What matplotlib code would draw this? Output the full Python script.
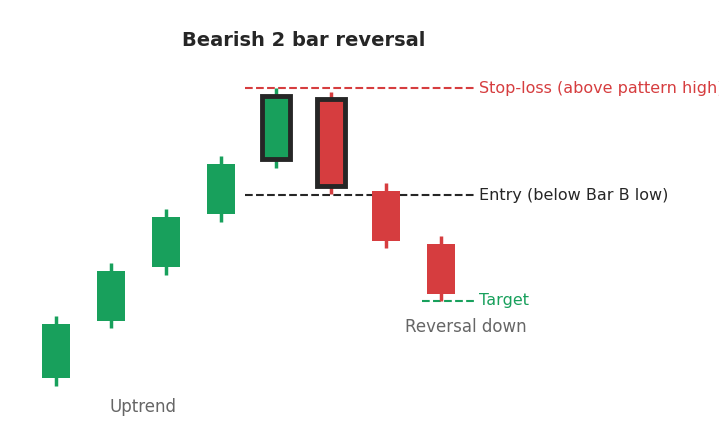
import matplotlib
matplotlib.use('Agg')
import matplotlib.pyplot as plt
from matplotlib.patches import Rectangle

opens = [6.9, 12.6, 18.0, 23.3, 28.8, 34.8, 25.6, 20.3]
closes = [12.3, 17.6, 23.0, 28.3, 35.1, 26.1, 20.6, 15.3]
lows = [6.1, 11.9, 17.2, 22.5, 27.9, 25.3, 19.9, 14.6]
highs = [13.1, 18.4, 23.8, 29.1, 35.9, 35.5, 26.4, 21.1]
outlined = [False, False, False, False, True, True, False, False]
stop_loss = 35.9
entry = 25.2
target = 14.6

green = '#18a05c'
red = '#d63d3f'

fig = plt.figure(figsize=(7.19, 4.47), dpi=100)
ax = fig.add_axes([0, 0, 1, 1])
ax.set_xlim(-56 / 55, 663 / 55)
ax.set_ylim(0, 44.7)
ax.axis('off')

width = 0.5
for i in range(len(opens)):
    o, c = opens[i], closes[i]
    color = green if c >= o else red
    ax.vlines(i, lows[i], highs[i], color=color, linewidth=2.5, zorder=2)
    if outlined[i]:
        ax.add_patch(Rectangle((i - width / 2, min(o, c)), width, abs(c - o),
                               facecolor=color, edgecolor='#262626', linewidth=3.5, zorder=3))
    else:
        ax.add_patch(Rectangle((i - width / 2, min(o, c)), width, abs(c - o),
                               facecolor=color, edgecolor='none', zorder=3))

xr = 7.63
ax.hlines(stop_loss, 3.44, xr, color=red, linestyle='--', linewidth=1.5, zorder=1)
ax.hlines(entry, 3.44, xr, color='#262626', linestyle='--', linewidth=1.5, zorder=1)
ax.hlines(target, 6.65, xr, color=green, linestyle='--', linewidth=1.5, zorder=1)

ax.text(xr + 0.06, stop_loss, 'Stop-loss (above pattern high)', color=red,
        fontsize=11.5, va='center', ha='left')
ax.text(xr + 0.06, entry, 'Entry (below Bar B low)', color='#262626',
        fontsize=11.5, va='center', ha='left')
ax.text(xr + 0.06, target, 'Target', color=green, fontsize=11.5, va='center', ha='left')

ax.text(1.58, 4.0, 'Uptrend', color='#666666', fontsize=12, ha='center', va='center')
ax.text(7.45, 12.0, 'Reversal down', color='#666666', fontsize=12, ha='center', va='center')
ax.text(4.51, 40.7, 'Bearish 2 bar reversal', color='#262626', fontsize=14,
        fontweight='bold', ha='center', va='center')

fig.savefig('out.png', dpi=100)
